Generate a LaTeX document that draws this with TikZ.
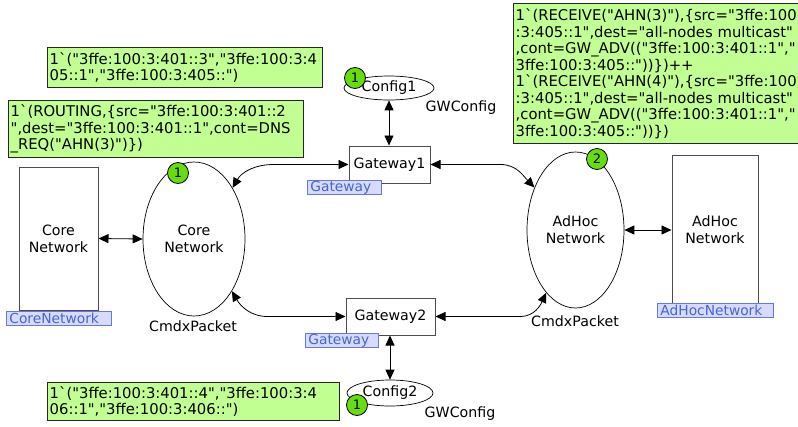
\documentclass[tikz,border=0pt]{standalone}
\usepackage{fontspec}
\setmainfont{DejaVu Sans}[Ligatures=TeXOff]
\usetikzlibrary{arrows.meta,shapes.geometric,calc}
\definecolor{markfill}{RGB}{194,255,146}
\definecolor{tokfill}{RGB}{102,221,17}
\definecolor{lblfill}{RGB}{214,219,255}
\definecolor{lbldraw}{RGB}{100,120,230}
\definecolor{lbltext}{RGB}{70,100,215}
\newcommand{\bq}{\symbol{96}}
\begin{document}
\begin{tikzpicture}[x=1pt,y=1pt,
  font=\fontsize{14.2}{17}\selectfont,
  place/.style={ellipse,draw=black,line width=0.7pt,inner sep=0pt,align=center},
  trans/.style={rectangle,draw=black!70,line width=1pt,inner sep=0pt,align=center},
  token/.style={circle,draw=black,fill=tokfill,line width=0.8pt,minimum size=21pt,inner sep=0pt,font=\fontsize{13}{13}\selectfont},
  markbox/.style={draw=black!85,fill=markfill,line width=1.4pt,anchor=north west,align=left,inner xsep=2pt,inner ysep=1pt,font=\fontsize{14.8}{16.5}\selectfont,execute at begin node={\hyphenpenalty=10000\exhyphenpenalty=10000}},
  lbl/.style={draw=lbldraw,fill=lblfill,text=lbltext,line width=0.8pt,anchor=north west,align=left,inner xsep=3pt,inner ysep=0pt,minimum height=14pt,font=\fontsize{13.8}{14}\selectfont},
  conn/.style={{Triangle[length=10pt,width=9pt]}-{Triangle[length=10pt,width=9pt]},line width=0.8pt},
  ]
\fill[white] (0,0) rectangle (798,-426);
\useasboundingbox (0,0) rectangle (798,-426);

% places and transitions
\node[trans,minimum width=79,minimum height=143] (corerect) at (58.5,-238.5) {Core\\Network};
\node[place,minimum width=102,minimum height=154] (core) at (194,-239) {Core\\Network};
\node[trans,minimum width=81,minimum height=37] (gw1) at (389.5,-164.5) {Gateway1};
\node[trans,minimum width=89,minimum height=37] (gw2) at (390.5,-316.5) {Gateway2};
\node[place,minimum width=90,minimum height=24] (cfg1) at (389,-88) {Config1};
\node[place,minimum width=86,minimum height=26] (cfg2) at (390,-393) {Config2};
\node[place,minimum width=97,minimum height=156] (adhoc) at (575.5,-230) {AdHoc\\Network};
\node[trans,minimum width=86,minimum height=149] (adhocrect) at (715,-229.5) {AdHoc\\Network};

% connectors
\draw[conn] (corerect.east) -- (core.west);
\draw[conn] (adhoc.east) -- (adhoc.east -| adhocrect.west);
\draw[conn] (cfg1.south) -- (cfg1.south |- gw1.north);
\draw[conn] (cfg2.north) -- (cfg2.north |- gw2.south);
\draw[conn] (core.53) to[out=60,in=180] ($(gw1.west)+(-75,0)$) -- (gw1.west);
\draw[conn] (core.306) to[out=-60,in=180] ($(gw2.west)+(-78,0)$) -- (gw2.west);
\draw[conn] (gw1.east) -- ($(gw1.east)+(70,0)$) to[out=0,in=134] (adhoc.134);
\draw[conn] (gw2.east) -- ($(gw2.east)+(85,0)$) to[out=0,in=245] (adhoc.245);

% type labels
\node (ty1) at (461,-108) {GWConfig};
\node (ty2) at (460,-414) {GWConfig};
\node (ty3) at (193,-326) {CmdxPacket};
\node (ty4) at (575,-321) {CmdxPacket};

% substitution labels
\node[lbl,text width=68] (lg1) at (307,-180) {Gateway};
\node[lbl,text width=67] (lg2) at (305,-333) {Gateway};
\node[lbl,text width=99] (lc) at (6,-311) {CoreNetwork};
\node[lbl,text width=110] (la) at (657,-303) {AdHocNetwork};

% tokens
\node[token] (t1) at (178,-173) {1};
\node[token] (t2) at (597,-159) {2};
\node[token] (t3) at (355,-78) {1};
\node[token] (t4) at (357,-405) {1};

% markings
\node[markbox,text width=271,minimum height=40] (m1) at (47,-47)
  {1\bq("3ffe:100:3:401::3","3ffe:100:3:4\\05::1","3ffe:100:3:405::")};
\node[markbox,text width=291,minimum height=57] (m2) at (8,-100)
  {1\bq(ROUTING,\{src="3ffe:100:3:401::2\\",dest="3ffe:100:3:401::1",cont=DNS\\\_REQ("AHN(3)")\})};
\node[markbox,text width=281,minimum height=140] (m3) at (513,-3)
  {1\bq(RECEIVE("AHN(3)"),\{src="3ffe:100\\
   \mbox{:3:405::1",dest="all-nodes multicast"}\\
   ,cont=GW\_ADV(("3ffe:100:3:401::1","\\
   3ffe:100:3:405::"))\})++\\
   1\bq(RECEIVE("AHN(4)"),\{src="3ffe:100\\
   \mbox{:3:405::1",dest="all-nodes multicast"}\\
   ,cont=GW\_ADV(("3ffe:100:3:401::1","\\
   3ffe:100:3:405::"))\})};
\node[markbox,text width=288,minimum height=38] (m4) at (47,-382)
  {1\bq("3ffe:100:3:401::4","3ffe:100:3:4\\06::1","3ffe:100:3:406::")};
\end{tikzpicture}
\end{document}
